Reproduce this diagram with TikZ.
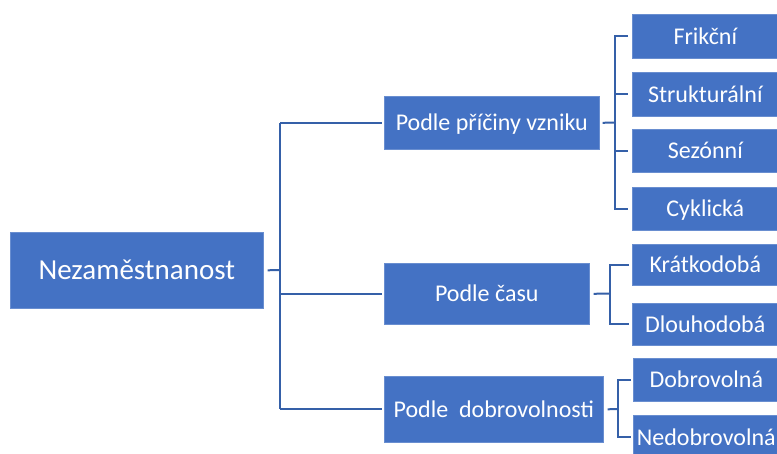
\documentclass[tikz,border=0pt]{standalone}
\usepackage{fontspec}
\setmainfont{Carlito}
\definecolor{boxblue}{HTML}{4472C4}
\definecolor{lineblue}{HTML}{3560A8}
\begin{document}
\begin{tikzpicture}[x=1pt,y=-1pt,
  box/.style={fill=boxblue,draw=boxblue!80!white,line width=0.6pt,text=white,inner sep=0pt,anchor=north west,align=center},
  mainbox/.style={box,font=\fontsize{29}{34}\selectfont,text height=18.7pt,text depth=0pt},
  lvbox/.style={box,font=\fontsize{24}{29}\selectfont,text height=15.5pt,text depth=0pt},
  conn/.style={draw=lineblue,line width=2pt}]
\useasboundingbox (0,0) rectangle (777,453);
% main
\node[mainbox,minimum width=253pt,minimum height=76pt] (main) at (10,232) {Nezaměstnanost};
% level 1
\node[lvbox,minimum width=215pt,minimum height=53pt] (pa) at (384,96) {Podle příčiny vzniku};
\node[lvbox,minimum width=205pt,minimum height=61pt] (pb) at (384,263) {Podle času};
\node[lvbox,minimum width=219pt,minimum height=66pt] (pc) at (384,376) {Podle\ \ dobrovolnosti};
% level 2
\node[lvbox,minimum width=146pt,minimum height=44pt] (a1) at (632,14) {Frikční};
\node[lvbox,minimum width=146pt,minimum height=44pt] (a2) at (632,72) {Strukturální};
\node[lvbox,minimum width=146pt,minimum height=43pt] (a3) at (632,129) {Sezónní};
\node[lvbox,minimum width=146pt,minimum height=43pt] (a4) at (632,187) {Cyklická};
\node[lvbox,minimum width=146pt,minimum height=41pt] (b1) at (632,244) {Krátkodobá};
\node[lvbox,minimum width=146pt,minimum height=42pt] (b2) at (632,303) {Dlouhodobá};
\node[lvbox,minimum width=146pt,minimum height=43pt] (c1) at (633,358) {Dobrovolná};
\node[lvbox,minimum width=146pt,minimum height=44pt] (c2) at (633,415) {Nedobrovolná};
% bus coordinates
\coordinate (m0) at (280,270);
\coordinate (ab) at (615,122.5);
\coordinate (bb) at (610,293.5);
\coordinate (cb) at (618,409);
% main connectors
\draw[conn] ([xshift=4pt]main.east) -- (m0);
\draw[conn] (m0 |- pa.west) -- (m0 |- pc.west);
\draw[conn] (m0 |- pa.west) -- ([xshift=-2pt]pa.west);
\draw[conn] (m0 |- pb.west) -- ([xshift=-2pt]pb.west);
\draw[conn] (m0 |- pc.west) -- ([xshift=-2pt]pc.west);
% group a
\draw[conn] ([xshift=3pt]pa.east) -- (ab);
\draw[conn] ([xshift=-4pt]a1.west) -- (ab |- a1.west) -- (ab |- a4.west) -- ([xshift=-4pt]a4.west);
\draw[conn] (ab |- a2.west) -- ([xshift=-4pt]a2.west);
\draw[conn] (ab |- a3.west) -- ([xshift=-4pt]a3.west);
% group b
\draw[conn] ([xshift=4pt]pb.east) -- (bb);
\draw[conn] ([xshift=-3pt]b1.west) -- (bb |- b1.west) -- (bb |- b2.west) -- ([xshift=-3pt]b2.west);
% group c
\draw[conn] ([xshift=4pt]pc.east) -- (cb);
\draw[conn] ([xshift=-2pt]c1.west) -- (cb |- c1.west) -- (cb |- c2.west) -- ([xshift=-2pt]c2.west);
\end{tikzpicture}
\end{document}
